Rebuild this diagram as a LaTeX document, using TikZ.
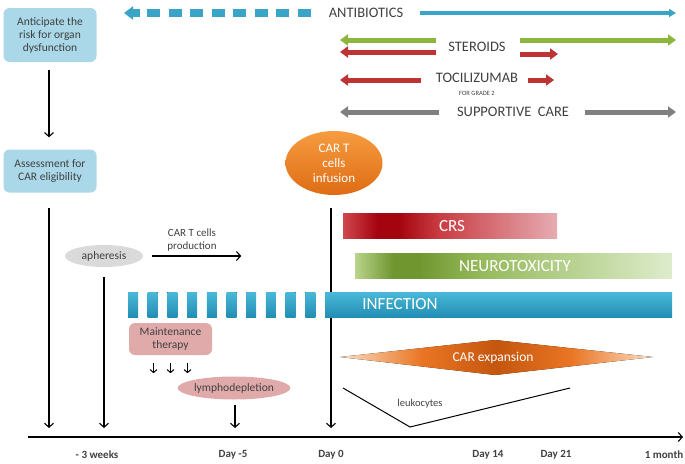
\documentclass[tikz,border=0pt]{standalone}
\usepackage{fontspec}
\setmainfont{Carlito}
\usepackage{tikz}
\usetikzlibrary{positioning,arrows.meta,shapes.geometric}
\definecolor{textGray}{RGB}{64,64,64}
\definecolor{boxBlue}{RGB}{170,216,232}
\definecolor{boxPink}{RGB}{224,170,170}
\definecolor{boxGray}{RGB}{218,218,218}
\definecolor{antiBlue}{RGB}{58,164,198}
\definecolor{steroidGreen}{RGB}{140,182,62}
\definecolor{drugRed}{RGB}{190,52,52}
\definecolor{careGray}{RGB}{128,128,128}
\definecolor{infectTop}{RGB}{74,184,216}
\definecolor{infectBottom}{RGB}{34,142,180}
\definecolor{infuseTop}{RGB}{246,156,64}
\definecolor{infuseBottom}{RGB}{222,108,20}
\definecolor{crsLeft}{RGB}{208,72,78}
\definecolor{crsDark}{RGB}{164,4,14}
\definecolor{crsMid}{RGB}{200,58,64}
\definecolor{crsRight}{RGB}{230,172,178}
\definecolor{neuroLeft}{RGB}{186,212,140}
\definecolor{neuroDark}{RGB}{112,150,48}
\definecolor{neuroMid}{RGB}{150,186,92}
\definecolor{neuroRight}{RGB}{222,236,204}
\definecolor{expandEnd}{RGB}{250,222,196}
\definecolor{expandMid}{RGB}{234,118,36}
\definecolor{expandDark}{RGB}{196,86,14}
\pgfdeclarehorizontalshading{crsShade}{100bp}{color(0bp)=(crsLeft); color(25bp)=(crsLeft); color(33bp)=(crsDark); color(38bp)=(crsDark); color(47bp)=(crsMid); color(75bp)=(crsRight); color(100bp)=(crsRight)}
\pgfdeclarehorizontalshading{neuroShade}{100bp}{color(0bp)=(neuroLeft); color(25bp)=(neuroLeft); color(31bp)=(neuroDark); color(35bp)=(neuroDark); color(45bp)=(neuroMid); color(75bp)=(neuroRight); color(100bp)=(neuroRight)}
\pgfdeclarehorizontalshading{expandShade}{100bp}{color(0bp)=(expandEnd); color(25bp)=(expandEnd); color(38bp)=(expandMid); color(50bp)=(expandDark); color(62bp)=(expandMid); color(75bp)=(expandEnd); color(100bp)=(expandEnd)}
\tikzstyle{timeline} = [x = 1pt, y = -1pt]
\tikzstyle{stepBox} = [rectangle, rounded corners = 6pt, fill = boxBlue, text = textGray, align = center, inner sep = 0pt, minimum width = 93pt, font = \fontsize{11.5}{13}\selectfont]
\tikzstyle{pinkBox} = [stepBox, fill = boxPink, minimum width = 83pt, minimum height = 32pt]
\tikzstyle{eventEllipse} = [ellipse, inner sep = 0pt, text = textGray, font = \fontsize{11.5}{13}\selectfont]
\tikzstyle{timeArrow} = [color = black, line width = 1.1pt, -{Straight Barb[length = 4pt, width = 9pt]}]
\tikzstyle{drugArrow} = [line width = 5pt, -{Triangle[length = 8pt, width = 11pt]}]
\tikzstyle{drugText} = [text = textGray, font = \fontsize{14.5}{16}\selectfont]
\tikzstyle{barText} = [text = white, font = \fontsize{17}{19}\selectfont]
\tikzstyle{dayText} = [text = textGray, font = \bfseries\fontsize{11}{12}\selectfont]
\tikzstyle{smallText} = [text = textGray, align = center, font = \fontsize{11}{13.5}\selectfont]
\newcommand{\drugBar}[4]{\draw [drugArrow, color = #1] (#2, #4) -- (#3, #4);}
\newcommand{\infectionBlock}[1]{\fill [top color = infectTop, bottom color = infectBottom] (#1, 292) rectangle + (10, 25);}
\newcommand{\antibioticDash}[1]{\fill [antiBlue] (#1, 9) rectangle + (13, 8);}

\begin{document}
\begin{tikzpicture}[timeline]
  \useasboundingbox (0, 0) rectangle (685, 463);

  % treatments
  \node [drugText] (antibiotics) at (366, 13) {ANTIBIOTICS};
  \foreach \k in {0,...,7} {
    \pgfmathsetmacro{\dashX}{147 + 21.5 * \k}
    \antibioticDash{\dashX}
  }
  \draw [antiBlue, line width = 8pt, -{Triangle[length = 9pt, width = 13pt]}] (140, 13) -- (124, 13);
  \draw [antiBlue, line width = 4pt, -{Triangle[length = 7pt, width = 8pt]}] (420, 13) -- (676, 13);

  \node [drugText] (steroids) at (477, 47) {STEROIDS};
  \drugBar{steroidGreen}{436}{340}{40}
  \drugBar{drugRed}{436}{340}{52}
  \drugBar{steroidGreen}{520}{676}{40}
  \drugBar{drugRed}{520}{558}{54}

  \node [drugText] (tocilizumab) at (477, 78) {TOCILIZUMAB};
  \node [text = textGray, font = \fontsize{6.5}{7}\selectfont, below = 1pt of tocilizumab] (grade) {FOR GRADE 2};
  \drugBar{drugRed}{421}{340}{80}
  \drugBar{drugRed}{528}{554}{80}

  \node [drugText] (care) at (513, 112) {SUPPORTIVE\ \ CARE};
  \drugBar{careGray}{439}{340}{112}
  \drugBar{careGray}{585}{676}{112}

  % time axis
  \coordinate (axisStart) at (28, 437);
  \coordinate (axisEnd) at (683, 437);
  \draw [timeArrow] (axisStart) -- (axisEnd);
  \coordinate (assessTip) at (49, 428);
  \coordinate (weeksTip) at (104, 428);
  \coordinate (lymphoTip) at (235, 428);
  \coordinate (dayZeroTip) at (331, 428);
  \node [dayText] (weeks) at (97, 455) {- 3 weeks};
  \node [dayText] (dayMinusFive) at (233, 455) {Day -5};
  \node [dayText] (dayZero) at (331, 455) {Day 0};
  \node [dayText] (dayFourteen) at (488, 455) {Day 14};
  \node [dayText] (dayTwentyOne) at (556, 455) {Day 21};
  \node [dayText] (oneMonth) at (664, 455) {1 month};

  % steps
  \node [stepBox, minimum height = 54pt] (anticipate) at (50, 35) {Anticipate the\\risk for organ\\dysfunction};
  \node [stepBox, minimum height = 43pt] (assessment) at (50, 171) {Assessment for\\CAR eligibility};
  \draw [timeArrow, shorten < = 8pt, shorten > = 12pt] (anticipate.south -| assessTip) -- (assessment.north -| assessTip);
  \draw [timeArrow, shorten < = 15pt] (assessment.south -| assessTip) -- (assessTip);

  \node [eventEllipse, fill = boxGray, minimum width = 78pt, minimum height = 22pt] (apheresis) at (104, 256) {apheresis};
  \draw [timeArrow, shorten < = 10pt] (apheresis.south -| weeksTip) -- (weeksTip);
  \node [smallText] (production) at (192, 240) {CAR T cells\\production};
  \draw [timeArrow] ([xshift = 9pt]apheresis.east) -- ++(89, 0);

  \node [eventEllipse, top color = infuseTop, bottom color = infuseBottom, text = white, align = center, font = \fontsize{13}{15}\selectfont, minimum width = 97pt, minimum height = 64pt] (infusion) at (334, 163) {CAR T\\cells\\infusion};
  \draw [timeArrow, shorten < = 13pt] (infusion.south -| dayZeroTip) -- (dayZeroTip);

  % toxicities
  \fill [shading = crsShade] (343, 213) rectangle (557, 238);
  \node [barText] (crs) at (452, 226) {CRS};
  \fill [shading = neuroShade] (355, 253) rectangle (672, 278);
  \node [barText] (neuro) at (515, 266) {NEUROTOXICITY};
  \foreach \k in {0,...,9} {
    \pgfmathsetmacro{\blockX}{128 + 19.7 * \k}
    \infectionBlock{\blockX}
  }
  \fill [top color = infectTop, bottom color = infectBottom] (325, 292) rectangle (672, 317);
  \node [barText] (infection) at (400, 304) {INFECTION};

  \node [pinkBox] (maintenance) at (170.5, 339) {Maintenance\\therapy};
  \foreach \dx in {-17, 0, 17} {
    \draw [timeArrow, line width = 1pt, -{Straight Barb[length = 3pt, width = 7pt]}] ([xshift = \dx pt, yshift = -8pt]maintenance.south) -- ++(0, 10);
  }
  \node [eventEllipse, fill = boxPink, minimum width = 98pt, minimum height = 23pt] (lympho) at (234, 388) {lymphodepletion};
  \draw [timeArrow, shorten < = 5pt] (lympho.south -| lymphoTip) -- (lymphoTip);

  % expansion and leukocytes
  \fill [shading = expandShade] (340, 357) -- (495, 340) -- (653, 357) -- (495, 375) -- cycle;
  \node [barText, font = \fontsize{13.5}{15}\selectfont] (expansion) at (493, 358) {CAR expansion};
  \draw [line width = 1pt] (343, 388) -- (410, 427) -- (570, 388);
  \node [text = textGray, font = \fontsize{10.5}{12}\selectfont] (leukocytes) at (420, 404) {leukocytes};
\end{tikzpicture}
\end{document}
